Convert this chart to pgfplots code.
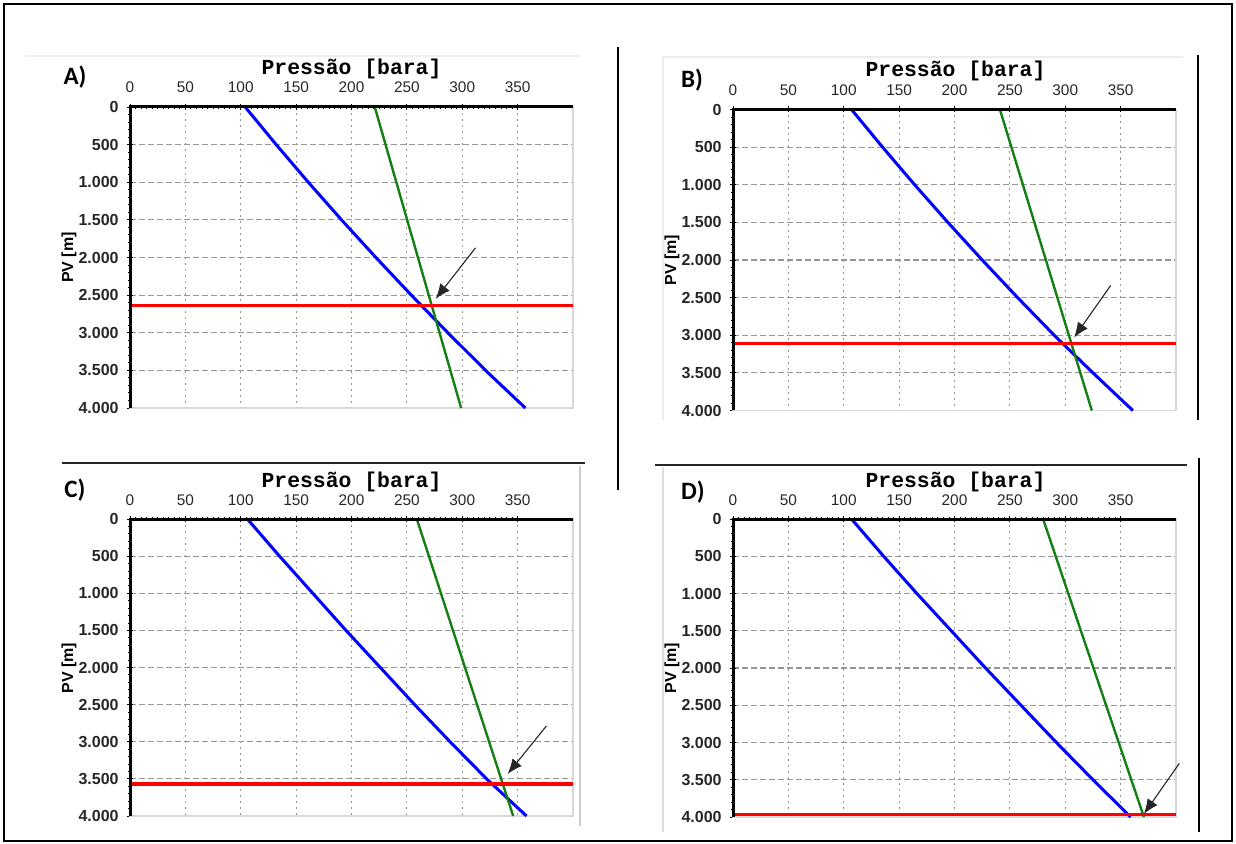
\documentclass[border=0pt]{standalone}
\usepackage{fontspec}
\setmainfont{Liberation Sans}
\newfontfamily\monofont{Liberation Mono}
\newfontfamily\calfont{Carlito}
\usepackage{pgfplots}
\pgfplotsset{compat=1.18}
\usetikzlibrary{arrows.meta}
\definecolor{pblue}{RGB}{0,0,255}
\definecolor{pgreen}{RGB}{20,128,20}
\definecolor{pred}{RGB}{255,0,0}
\definecolor{gridc}{RGB}{150,150,150}
\definecolor{edgec}{RGB}{215,215,215}
\tikzset{arr/.style={-{Latex[length=7.5pt,width=6pt]}, line width=0.55pt, black!85}}
\pgfplotsset{
  panel/.style={
    scale only axis, width=221.5pt, height=150.5pt,
    xmin=0, xmax=400, ymin=0, ymax=4000, y dir=reverse,
    anchor=north west, clip=false,
    xtick={0,50,...,350}, ytick={0,500,...,4000},
    xtick pos=right, xticklabel pos=right, ytick pos=left,
    tick align=center, major tick length=3pt, minor tick length=1.6pt,
    minor x tick num=9, minor y tick num=4,
    tick style={black, line width=0.45pt},
    grid=major,
    x grid style={gridc, line width=0.6pt, dash pattern=on 1pt off 2pt},
    y grid style={gridc, line width=0.6pt, dash pattern=on 3pt off 1.5pt},
    axis line style={draw=edgec, line width=0.9pt},
    xticklabel style={font=\fontsize{7.7}{8}\selectfont, text=black!85, anchor=base, yshift=5.5pt, inner sep=0pt},
    yticklabel style={font=\bfseries\fontsize{8}{9}\selectfont, text=black!85, anchor=east, xshift=-4pt, inner sep=0pt},
    /pgf/number format/1000 sep={.},
    /pgf/number format/assume math mode=true,
  },
  blueline/.style={pblue, line width=1.5pt},
  greenline/.style={pgreen, line width=1.2pt},
  redline/.style={pred, line width=1.7pt},
}
\newcommand{\frameaxes}{\draw[black, line width=1.5pt] (rel axis cs:0,0) -- (rel axis cs:0,1) -- (rel axis cs:1,1);}
\begin{document}
\begin{tikzpicture}[x=0.5pt,y=-0.5pt]
\useasboundingbox (0,0) rectangle (1236,844);
% outer frame and separators
\draw[black, line width=1pt] (4,4) rectangle (1232,841);
\draw[gray!12, line width=0.8pt] (25,56) -- (580,56);
\draw[gray!15, line width=0.8pt] (663,57) -- (1183,57);
\draw[gray!15, line width=0.8pt] (663,57) -- (663,420);
\draw[gray!40, line width=0.8pt] (580,466) -- (580,826);
\draw[gray!25, line width=0.8pt] (663,467) -- (663,832);
\draw[black!85, line width=1.1pt] (62,463) -- (585,463);
\draw[black, line width=0.7pt] (618,47) -- (618,490);
\draw[black, line width=0.7pt] (1198,55) -- (1198,420);
\draw[black!85, line width=1pt] (655,465) -- (1187,465);
\draw[black, line width=0.7pt] (1199,458) -- (1199,832);

% ---------- A ----------
\begin{axis}[panel, at={(65pt,-53.5pt)}]
\addplot[blueline] coordinates {(104,0) (132,500) (161,1000) (191,1500) (222,2000) (254,2500) (287,3000) (321,3500) (357,4000)};
\addplot[greenline] coordinates {(221,0) (299,4000)};
\addplot[redline] coordinates {(0,2640) (400,2640)};
\frameaxes
\draw[arr] (axis cs:312,1871) -- (axis cs:276,2550);
\end{axis}

% ---------- B ----------
\begin{axis}[panel, at={(366.5pt,-54.75pt)}]
\addplot[blueline] coordinates {(107,0) (135,500) (164,1000) (194,1500) (225,2000) (257,2500) (290,3000) (325,3500) (361,4000)};
\addplot[greenline] coordinates {(241,0) (324,4000)};
\addplot[redline] coordinates {(0,3110) (400,3110)};
\frameaxes
\draw[arr] (axis cs:341,2339) -- (axis cs:308,3029);
\end{axis}

% ---------- C ----------
\begin{axis}[panel, at={(65pt,-259.5pt)}, height=148.5pt]
\addplot[blueline] coordinates {(106,0) (135,500) (165,1000) (195,1500) (226,2000) (257,2500) (289,3000) (322,3500) (358,4000)};
\addplot[greenline] coordinates {(259,0) (346,4000)};
\addplot[redline] coordinates {(0,3570) (400,3570)};
\frameaxes
\draw[arr] (axis cs:376,2787) -- (axis cs:341,3434);
\end{axis}

% ---------- D ----------
\begin{axis}[panel, at={(366.5pt,-259.5pt)}, height=149pt]
\addplot[blueline] coordinates {(107,0) (136,500) (166,1000) (197,1500) (228,2000) (260,2500) (292,3000) (325,3500) (359,4000)};
\addplot[greenline] coordinates {(280,0) (371,4000)};
\addplot[pred, line width=1.1pt] coordinates {(0,3965) (400,3965)};
\frameaxes
\draw[arr] (axis cs:403,3280) -- (axis cs:371,3960);
\end{axis}

% ---------- labels ----------
\node[font=\calfont\bfseries\fontsize{12.5}{13}\selectfont] at (75,77) {A)};
\node[font=\calfont\bfseries\fontsize{12.5}{13}\selectfont] at (692,80) {B)};
\node[font=\calfont\bfseries\fontsize{12.5}{13}\selectfont] at (75,490) {C)};
\node[font=\calfont\bfseries\fontsize{12.5}{13}\selectfont] at (693,492) {D)};

\node[font=\monofont\bfseries\fontsize{10.7}{11}\selectfont, anchor=base] at (351.5,75) {Pressão [bara]};
\node[font=\monofont\bfseries\fontsize{10.7}{11}\selectfont, anchor=base] at (955.5,77) {Pressão [bara]};
\node[font=\monofont\bfseries\fontsize{10.7}{11}\selectfont, anchor=base] at (351.5,487) {Pressão [bara]};
\node[font=\monofont\bfseries\fontsize{10.7}{11}\selectfont, anchor=base] at (955.5,487) {Pressão [bara]};

\node[font=\bfseries\fontsize{8}{9}\selectfont, rotate=90] at (69,257.5) {PV [m]};
\node[font=\bfseries\fontsize{8}{9}\selectfont, rotate=90] at (672,260) {PV [m]};
\node[font=\bfseries\fontsize{8}{9}\selectfont, rotate=90] at (69,668) {PV [m]};
\node[font=\bfseries\fontsize{8}{9}\selectfont, rotate=90] at (672,668) {PV [m]};
\end{tikzpicture}
\end{document}
